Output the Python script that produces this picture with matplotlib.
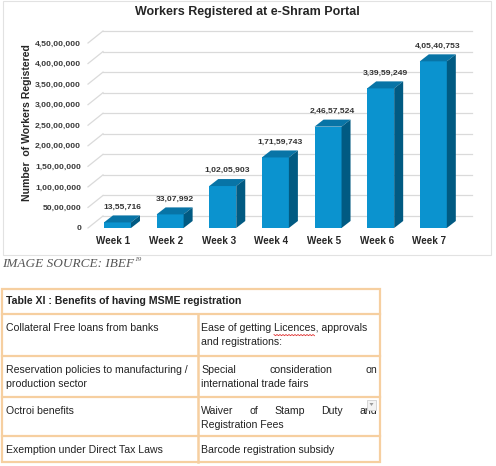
import matplotlib
matplotlib.use('Agg')
import matplotlib.pyplot as plt
from matplotlib.patches import Polygon, Rectangle
from matplotlib.lines import Line2D
from matplotlib.transforms import ScaledTranslation
import numpy as np

plt.rcParams['font.family'] = ['Liberation Sans', 'DejaVu Sans']

W, H = 496, 466

# chart data
weeks = ['Week 1', 'Week 2', 'Week 3', 'Week 4', 'Week 5', 'Week 6', 'Week 7']
workers = [1355716, 3307992, 10205903, 17159743, 24657524, 33959249, 40540753]
y_ticks = np.arange(0, 45000001, 5000000)

chart_title = 'Workers Registered at e-Shram Portal'
y_title = 'Number  of Workers Registered'
caption = 'IMAGE SOURCE: IBEF'
caption_note = '19'

# table data
table_title = 'Table XI : Benefits of having MSME registration'
left_col = [['Collateral Free loans from banks'],
            ['Reservation policies to manufacturing /', 'production sector'],
            ['Octroi benefits'],
            ['Exemption under Direct Tax Laws']]
right_col = [['Ease of getting Licences, approvals', 'and registrations:'],
             ['Special consideration on', 'international trade fairs'],
             ['Waiver of Stamp Duty and', 'Registration Fees'],
             ['Barcode registration subsidy']]
justified = [(1, 0), (2, 0)]


def indian(n):
    s = str(int(round(n)))
    if len(s) <= 3:
        return s
    head, tail = s[:-3], s[-3:]
    parts = []
    while len(head) > 2:
        parts.insert(0, head[-2:])
        head = head[:-2]
    if head:
        parts.insert(0, head)
    return ','.join(parts + [tail])


def fx(x):
    return x / W


def fy(y):
    return 1 - y / H


fig = plt.figure(figsize=(W / 100, H / 100), dpi=100)
renderer = fig.canvas.get_renderer()

# ---- chart ----
ax_l, ax_r, ax_top, ax_bot = 88, 457, 43, 228
ax = fig.add_axes([fx(ax_l), fy(ax_bot), (ax_r - ax_l) / W, (ax_bot - ax_top) / H])
xmin, xmax = -0.56, 6.45
ymax = 45000000
ax.set_xlim(xmin, xmax)
ax.set_ylim(0, ymax)
for s in ax.spines.values():
    s.set_visible(False)
ax.patch.set_visible(False)

px_x = (ax_r - ax_l) / (xmax - xmin)
px_y = (ax_bot - ax_top) / ymax

# walls: back gridlines and side wall diagonals
wall_dx, wall_dy = 15 / px_x, 12 / px_y
grid_c = '#dadada'
for v in y_ticks:
    ax.plot([xmin + wall_dx, xmax + wall_dx], [v + wall_dy, v + wall_dy],
            color=grid_c, lw=0.9, clip_on=False, zorder=0)
    ax.plot([xmin, xmin + wall_dx], [v, v + wall_dy],
            color=grid_c, lw=0.9, clip_on=False, zorder=0)

# 3d-looking bars
x = np.arange(len(weeks))
bw = 27 / px_x
ddx, ddy = 9 / px_x, 7 / px_y
front_c, top_c, side_c = '#0b93cf', '#0874a6', '#015a82'
ax.bar(x, workers, width=bw, color=front_c, linewidth=0, zorder=3)
for xi, v in zip(x, workers):
    xr = xi + bw / 2
    xl = xi - bw / 2
    top = Polygon([(xl, v), (xr, v), (xr + ddx, v + ddy), (xl + ddx, v + ddy)],
                  closed=True, facecolor=top_c, edgecolor='none', zorder=3, clip_on=False)
    side = Polygon([(xr, 0), (xr + ddx, ddy), (xr + ddx, v + ddy), (xr, v)],
                   closed=True, facecolor=side_c, edgecolor='none', zorder=3, clip_on=False)
    ax.add_patch(top)
    ax.add_patch(side)
    ax.annotate(indian(v), xy=(xi + ddx / 2, v + ddy), xytext=(0, 3.5),
                textcoords='offset points', ha='center', va='bottom',
                fontsize=6.1, fontweight='bold', color='#333333')

ax.set_xticks(x)
ax.set_xticklabels(weeks, fontsize=7.1, fontweight='bold', color='#262626')
ax.set_yticks(y_ticks)
ax.set_yticklabels([indian(v) for v in y_ticks], fontsize=6.1, fontweight='bold', color='#3a3a3a')
ax.tick_params(axis='x', length=0, pad=5.5)
ax.tick_params(axis='y', length=0, pad=5)
shift = ScaledTranslation(-4 / 100, 0, fig.dpi_scale_trans)
for lbl in ax.get_xticklabels():
    lbl.set_transform(lbl.get_transform() + shift)

fig.text(fx(247), fy(11.5), chart_title, ha='center', va='center',
         fontsize=9.0, fontweight='bold', color='#262626')
fig.text(fx(27), fy(122.5), y_title, ha='center', va='center', rotation=90,
         fontsize=7.6, fontweight='bold', color='#262626')

# panel border
fig.add_artist(Rectangle((fx(3), fy(255)), (491 - 3) / W, (255 - 1) / H,
                         transform=fig.transFigure, fill=False,
                         edgecolor='#e2e2e2', lw=0.8))

# ---- caption ----
cap = fig.text(fx(2), fy(264), caption, ha='left', va='center',
               fontfamily='Liberation Serif', style='italic', fontsize=9.5, color='#555555')
cap_w = cap.get_window_extent(renderer).width
fig.text(fx(2 + cap_w + 0.5), fy(259.5), caption_note, ha='left', va='center',
         fontfamily='Liberation Serif', style='italic', fontsize=5.2, color='#555555')

# ---- table ----
border_c = '#f6cfa0'
t_l, t_r, col_x = 2, 380, 198
row_y = [289, 314, 356, 397, 436, 462]
fig.add_artist(Rectangle((fx(t_l), fy(row_y[-1])), (t_r - t_l) / W, (row_y[-1] - row_y[0]) / H,
                         transform=fig.transFigure, fill=False, edgecolor=border_c, lw=1.6))
for yy in row_y[1:-1]:
    fig.add_artist(Line2D([fx(t_l), fx(t_r)], [fy(yy), fy(yy)], color=border_c, lw=1.6))
fig.add_artist(Line2D([fx(col_x), fx(col_x)], [fy(row_y[1]), fy(row_y[-1])], color=border_c, lw=1.8))

txt_kw = dict(fontsize=7.6, color='#222222', va='center', ha='left')


def word_width(s):
    t = fig.text(0, 0, s, **txt_kw)
    w = t.get_window_extent(renderer).width
    t.remove()
    return w


fig.text(fx(6), fy(301), table_title, fontweight='bold', **txt_kw)

line_gap = 14
r_left, r_right = 201, 377
for i in range(len(left_col)):
    first_y = row_y[i + 1] + 14
    for j, line in enumerate(left_col[i]):
        fig.text(fx(6), fy(first_y + j * line_gap), line, **txt_kw)
    for j, line in enumerate(right_col[i]):
        yy = first_y + j * line_gap
        if (i, j) in justified:
            words = line.split()
            widths = [word_width(w) for w in words]
            gap = (r_right - r_left - sum(widths)) / (len(words) - 1)
            xx = r_left
            for w, ww in zip(words, widths):
                fig.text(fx(xx), fy(yy), w, **txt_kw)
                xx += ww + gap
        else:
            fig.text(fx(r_left), fy(yy), line, **txt_kw)

# spell-check squiggle under "Licences"
sq_start = r_left + word_width('Ease of getting ')
sq_len = word_width('Licences')
sq_x = np.arange(sq_start, sq_start + sq_len, 1.5)
sq_y = 334.5 + np.where(np.arange(len(sq_x)) % 2 == 0, 0, 1.2)
fig.add_artist(Line2D(fx(sq_x), fy(sq_y), color='#e03030', lw=0.6))

# small dropdown icon over the last word of the "Waiver" line
fig.add_artist(Rectangle((fx(367), fy(410)), 9 / W, 10 / H, transform=fig.transFigure,
                         facecolor='#f3f3f3', edgecolor='#d0d0d0', lw=0.6, zorder=5))
fig.add_artist(Polygon([(fx(369.5), fy(403)), (fx(373.5), fy(403)), (fx(371.5), fy(406))],
                       closed=True, transform=fig.transFigure, facecolor='#9a9a9a',
                       edgecolor='none', zorder=6))

fig.savefig('out.png', dpi=100, facecolor='white')
